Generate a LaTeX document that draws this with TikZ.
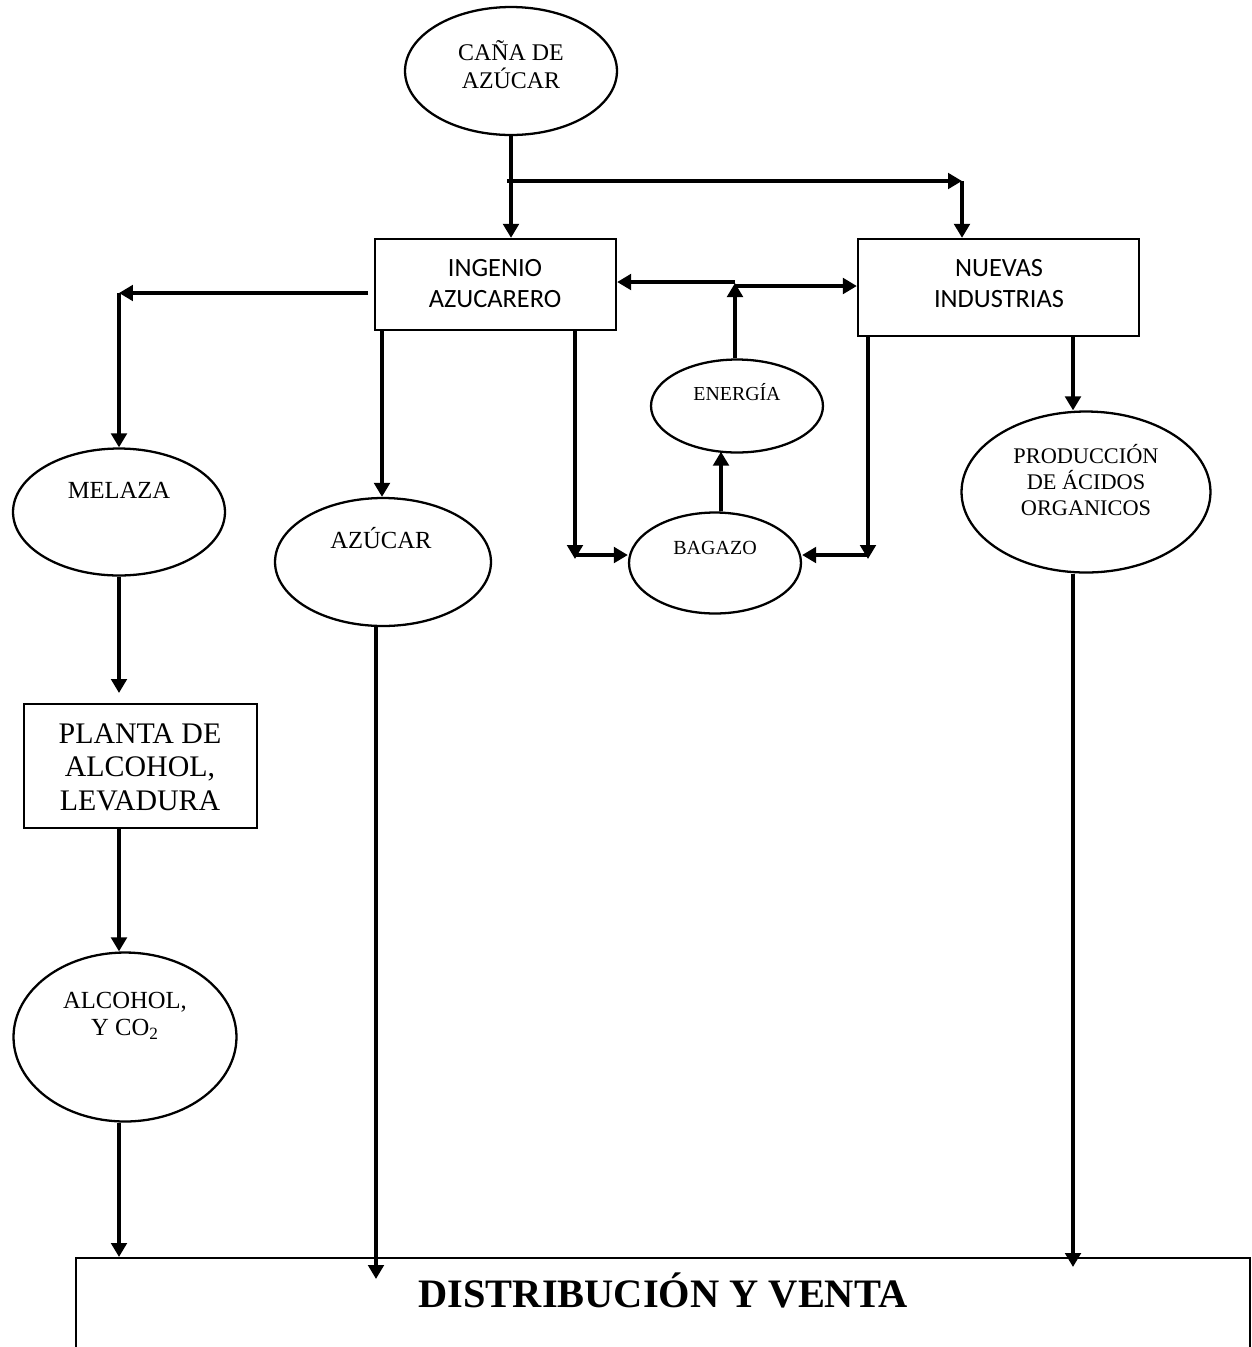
\documentclass[tikz,border=0pt]{standalone}
\usepackage{fontspec}
\setmainfont{Liberation Serif}
\newfontfamily\boxsans{Carlito}
\usetikzlibrary{shapes.geometric,arrows.meta}

% centred stack of lines whose baseline is the first line's baseline
\newcommand\stk[1]{\begin{tabular}[t]{@{}c@{}}#1\end{tabular}}

\tikzset{
  arr/.style={line width=2.1pt, -{Triangle[length=0.28cm,width=0.31cm]}},
  ell/.style={draw, ellipse, line width=1.3pt, inner sep=0pt},
  box/.style={draw, rectangle, line width=1.3pt, inner sep=0pt},
  lbl/.style={anchor=base, inner sep=0pt},
}

\begin{document}
\begin{tikzpicture}[x=0.02cm, y=-0.02cm]
\useasboundingbox (0,0) rectangle (1252,1347);

% ---- shapes ----
\node[ell, minimum width=4.24cm, minimum height=2.56cm] (cana)    at (511,71) {};
\node[box, minimum width=4.82cm, minimum height=1.82cm] (ing)     at (495.5,284.5) {};
\node[box, minimum width=5.62cm, minimum height=1.94cm] (nue)     at (998.5,287.5) {};
\node[ell, minimum width=4.24cm, minimum height=2.54cm] (melaza)  at (119,512) {};
\node[ell, minimum width=4.32cm, minimum height=2.56cm] (azucar)  at (383,562) {};
\node[ell, minimum width=3.44cm, minimum height=1.86cm] (energia) at (737,406) {};
\node[ell, minimum width=3.44cm, minimum height=2.02cm] (bagazo)  at (715,563) {};
\node[ell, minimum width=4.98cm, minimum height=3.22cm] (prod)    at (1086,492) {};
\node[box, minimum width=4.66cm, minimum height=2.48cm] (planta)  at (140.5,766) {};
\node[ell, minimum width=4.46cm, minimum height=3.38cm] (alcohol) at (125,1037) {};
\node[box, minimum width=23.48cm, minimum height=2.84cm] (dist)   at (663,1329) {};

% ---- texts ----
\node[lbl] (cana-t) at (511,60)
  {\fontsize{13.6}{14.2}\selectfont\stk{CAÑA DE\\AZÚCAR}};
\node[lbl] (ing-t) at (495,276)
  {\boxsans\fontsize{15}{18.2}\selectfont\stk{INGENIO\\AZUCARERO}};
\node[lbl] (nue-t) at (999,276)
  {\boxsans\fontsize{15}{18.2}\selectfont\stk{NUEVAS\\INDUSTRIAS}};
\node[lbl] (melaza-t) at (119,498) {\fontsize{14}{16}\selectfont MELAZA};
\node[lbl] (azucar-t) at (381,548) {\fontsize{14}{16}\selectfont AZÚCAR};
\node[lbl] (energia-t) at (737,400) {\fontsize{11.3}{13}\selectfont ENERGÍA};
\node[lbl] (bagazo-t) at (715,554) {\fontsize{11.4}{13}\selectfont BAGAZO};
\node[lbl] (prod-t) at (1086,463)
  {\fontsize{12.7}{14.7}\selectfont\stk{PRODUCCIÓN\\DE ÁCIDOS\\ORGANICOS}};
\node[lbl] (planta-t) at (140,743)
  {\fontsize{17}{19.3}\selectfont\stk{PLANTA DE\\ALCOHOL,\\LEVADURA}};
\node[lbl] (alcohol-t) at (125,1008)
  {\fontsize{14}{15.9}\selectfont\stk{ALCOHOL,\\Y CO\textsubscript{2}}};
\node[lbl] (dist-t) at (663,1307)
  {\fontsize{23}{26}\selectfont\bfseries DISTRIBUCIÓN Y VENTA};

% ---- junction points ----
\coordinate (split)  at (507,181);
\coordinate (turn)   at (962,181);
\coordinate (lturn)  at (119,293);
\coordinate (lfrom)  at (368,293);
\coordinate (ldown)  at (575,559);
\coordinate (lcorn)  at (575,555);
\coordinate (rdown)  at (868,559);
\coordinate (rcorn)  at (868,555);
\coordinate (etop)   at (735,283);
\coordinate (eleft)  at (735,282);
\coordinate (eright) at (735,286);

% ---- connectors ----
\draw[arr] (cana.south) -- (cana.south |- ing.north);
\draw[arr] (split) -- (turn);
\draw[arr] (turn) -- (turn |- nue.north);

\draw[arr] (lfrom) -- (lturn);
\draw[arr] (lturn) -- (melaza.north);
\draw[arr] (ing.south -| 382,0) -- (azucar.north -| 382,0);

\draw[arr] (ing.south -| ldown) -- (ldown);
\draw[arr] (lcorn) -- (bagazo.west |- lcorn);
\draw[arr] (nue.south -| rdown) -- (rdown);
\draw[arr] (rcorn) -- (bagazo.east |- rcorn);

\draw[arr] ([xshift=0.12cm]bagazo.north) -- ([xshift=-0.32cm,yshift=0.04cm]energia.south);
\draw[arr] (energia.north -| etop) -- (etop);
\draw[arr] (eleft) -- (ing.east |- eleft);
\draw[arr] (eright) -- (nue.west |- eright);

\draw[arr] (nue.south -| 1073,0) -- (prod.north -| 1073,0);

\draw[arr] (melaza.south) -- (119,693);
\draw[arr] (planta.south -| 119,0) -- (alcohol.north -| 119,0);
\draw[arr] (alcohol.south -| 119,0) -- (119,1257);
\draw[arr] (azucar.south -| 376,0) -- (376,1279);
\draw[arr] (prod.south -| 1073,0) -- (1073,1267);
\end{tikzpicture}
\end{document}
